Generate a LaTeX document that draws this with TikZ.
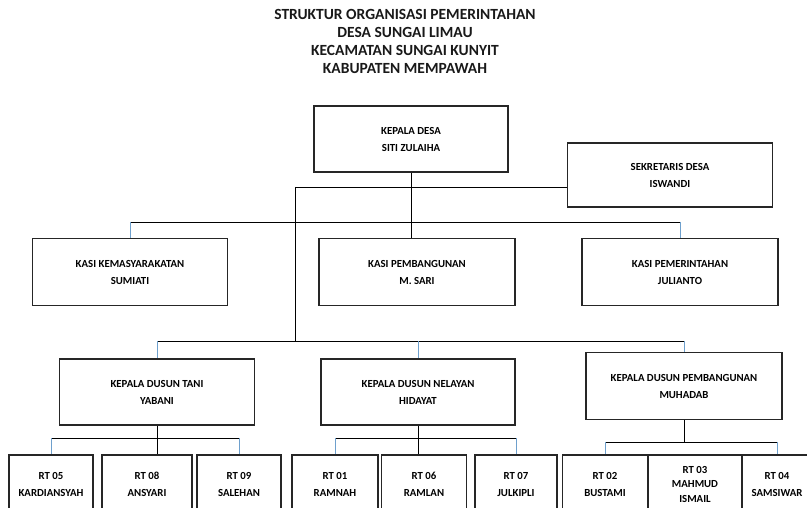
\documentclass[tikz,border=0pt]{standalone}
\usepackage{fontspec}
\setmainfont{Carlito}

\begin{document}
\begin{tikzpicture}[x=1pt,y=-1pt]
\definecolor{birumuda}{RGB}{110,160,205}
\tikzset{kotak/.style={draw=black!85, line width=1.5pt, fill=white, align=center, font=\bfseries\fontsize{10.8}{17}\selectfont, inner sep=0pt},
garis/.style={draw=black, line width=0.8pt},
turun/.style={draw=birumuda, line width=0.7pt}}
\useasboundingbox (0,0) rectangle (807,508);
\clip (0,0) rectangle (807,508);
\node[font=\bfseries\fontsize{15.5}{18}\selectfont, align=center, text=black!90] (judul) at (405,41) {STRUKTUR ORGANISASI PEMERINTAHAN\\DESA SUNGAI LIMAU\\KECAMATAN SUNGAI KUNYIT\\KABUPATEN MEMPAWAH};
\node[kotak, minimum width=194, minimum height=66] (kd) at (411,139) {KEPALA DESA\\SITI ZULAIHA};
\node[kotak, minimum width=205, minimum height=64] (sk) at (670,175) {SEKRETARIS DESA\\ISWANDI};
\node[kotak, minimum width=195, minimum height=67] (ks1) at (130,272) {KASI KEMASYARAKATAN\\SUMIATI};
\node[kotak, minimum width=196, minimum height=67] (ks2) at (417,272) {KASI PEMBANGUNAN\\M. SARI};
\node[kotak, minimum width=196, minimum height=67] (ks3) at (680,272) {KASI PEMERINTAHAN\\JULIANTO};
\node[kotak, minimum width=195, minimum height=66] (ds1) at (157,392) {KEPALA DUSUN TANI\\YABANI};
\node[kotak, minimum width=194, minimum height=66] (ds2) at (418,392) {KEPALA DUSUN NELAYAN\\HIDAYAT};
\node[kotak, minimum width=196, minimum height=67] (ds3) at (684,386) {KEPALA DUSUN PEMBANGUNAN\\MUHADAB};
\node[kotak, minimum width=84, minimum height=58] (rt05) at (51,484) {RT 05\\KARDIANSYAH};
\node[kotak, minimum width=90, minimum height=58] (rt08) at (147,484) {RT 08\\ANSYARI};
\node[kotak, minimum width=84, minimum height=58] (rt09) at (239,484) {RT 09\\SALEHAN};
\node[kotak, minimum width=86, minimum height=58] (rt01) at (335,484) {RT 01\\RAMNAH};
\node[kotak, minimum width=85, minimum height=58] (rt06) at (424,484) {RT 06\\RAMLAN};
\node[kotak, minimum width=82, minimum height=58] (rt07) at (516,484) {RT 07\\JULKIPLI};
\node[kotak, minimum width=85, minimum height=58] (rt02) at (605,484) {RT 02\\BUSTAMI};
\node[kotak, minimum width=94, minimum height=58, font=\bfseries\fontsize{10.8}{14.5}\selectfont] (rt03) at (695,484) {RT 03\\MAHMUD\\ISMAIL};
\node[kotak, minimum width=70, minimum height=58] (rt04) at (777,484) {RT 04\\SAMSIWAR};
% garis kepala desa
\coordinate (sb) at (295,187);
\coordinate (kb) at (0,222);
\coordinate (db) at (0,341);
\coordinate (rb) at (0,438);
\coordinate (rb3) at (0,442);
\draw[garis] (kd.south) -- (kd.south |- ks2.north);
\draw[garis] (sb) -- (sk.west |- sb);
\draw[garis] (sb) -- (sb |- db);
% kasi
\draw[garis] (ks1.north |- kb) -- (ks3.north |- kb);
\draw[turun] (ks1.north |- kb) -- (ks1.north);
\draw[turun] (ks3.north |- kb) -- (ks3.north);
% dusun
\draw[garis] (ds1.north |- db) -- (ds3.north |- db);
\draw[turun] (ds1.north |- db) -- (ds1.north);
\draw[turun] (ds2.north |- db) -- (ds2.north);
\draw[turun] (ds3.north |- db) -- (ds3.north);
% rt
\draw[garis] (ds1.south) -- (ds1.south |- rt08.north);
\draw[garis] (rt05.north |- rb) -- (rt09.north |- rb);
\draw[turun] (rt05.north |- rb) -- (rt05.north);
\draw[turun] (rt09.north |- rb) -- (rt09.north);
\draw[garis] (ds2.south) -- (ds2.south |- rt06.north);
\draw[garis] (rt01.north |- rb) -- (rt07.north |- rb);
\draw[turun] (rt01.north |- rb) -- (rt01.north);
\draw[turun] (rt07.north |- rb) -- (rt07.north);
\draw[garis] (ds3.south) -- (ds3.south |- rb3);
\draw[garis] (rt02.north |- rb3) -- (rt04.north |- rb3);
\draw[turun] (rt02.north |- rb3) -- (rt02.north);
\draw[turun] (rt04.north |- rb3) -- (rt04.north);
\end{tikzpicture}
\end{document}
